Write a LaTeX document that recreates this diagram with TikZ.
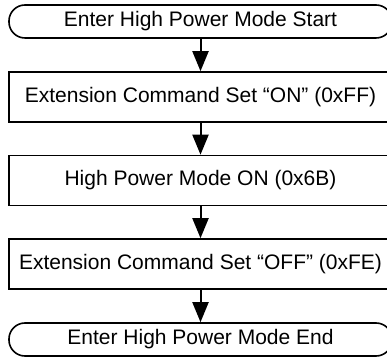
\documentclass[tikz,border=0pt]{standalone}
\usepackage{fontspec}
\setmainfont{Liberation Sans}
\usetikzlibrary{arrows.meta, positioning}

\begin{document}
\begin{tikzpicture}[x=1pt,y=1pt,
  stepbox/.style={draw, line width=1.6pt, minimum width=383pt, minimum height=50pt, inner sep=0pt, font=\fontsize{21}{25}\selectfont},
  termbox/.style={stepbox, rounded corners=16pt, minimum height=33pt},
  flow/.style={line width=2pt, -{Triangle[length=20pt,width=16pt]}}]
% \draw[help lines, red] (0,0) grid[step=20] (387,358);
\useasboundingbox (0,0) rectangle (387,358);
\node[termbox] (start) at (200.5,336.5) {Enter High Power Mode Start};
\node[stepbox] (exton) at (200.5,261) {Extension Command Set “ON” (0xFF)};
\node[stepbox] (hpon) at (200.5,177.5) {High Power Mode ON (0x6B)};
\node[stepbox] (extoff) at (200.5,94) {Extension Command Set “OFF” (0xFE)};
\node[termbox] (stop) at (200.5,18.5) {Enter High Power Mode End};
\draw[flow] (start) -- (exton);
\draw[flow] (exton) -- (hpon);
\draw[flow] (hpon) -- (extoff);
\draw[flow] (extoff) -- (stop);
\end{tikzpicture}
\end{document}
